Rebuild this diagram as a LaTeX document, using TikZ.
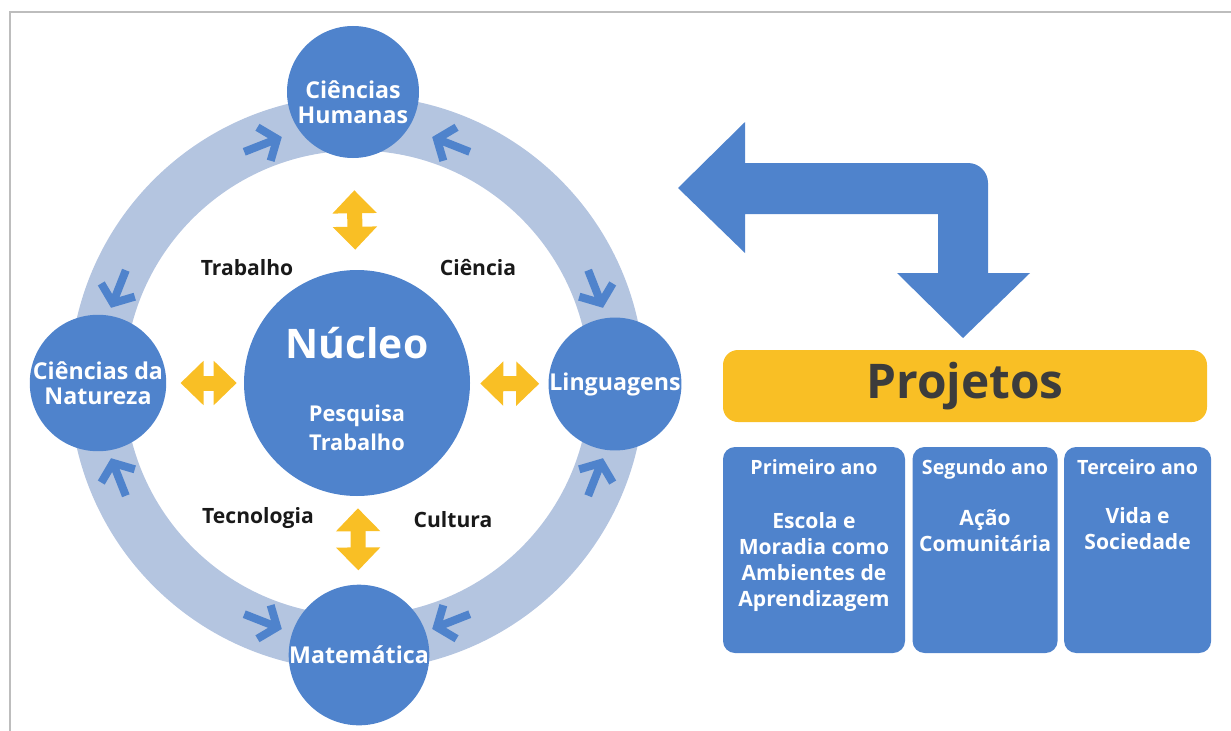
\documentclass[tikz,border=0pt]{standalone}
\usepackage{fontspec}
\setmainfont{Open Sans}
\usetikzlibrary{positioning,arrows.meta}

\definecolor{discblue}{HTML}{4F83CC}
\definecolor{ringblue}{HTML}{B4C5E0}
\definecolor{gold}{HTML}{F9BF25}
\definecolor{ink}{HTML}{3C3C3C}
\definecolor{framegray}{HTML}{BDBDBD}

\begin{document}
\begin{tikzpicture}[%
  % the four areas sitting on the ring
  disc/.style = {circle, fill=discblue, text=white, align=center, inner sep=0,
              minimum size=3.3cm, font=\bfseries\fontsize{16.5}{17.5}\selectfont},
  % small arrows running along the ring
  chev/.style = {draw=discblue, line width=0.2cm,
              -{Straight Barb[length=0.35cm,width=0.9cm]}},
  % yellow two-way arrows around the core
  dbl/.style = {draw=gold, line width=0.375cm,
              {Triangle[length=0.575cm,width=1.075cm]}-{Triangle[length=0.575cm,width=1.075cm]}},
  % black words between the arrows
  word/.style = {text=black!90, font=\bfseries\fontsize{15}{18}\selectfont},
  % one box per school year
  yearbox/.style = {fill=discblue, rounded corners=0.3cm, inner sep=0,
              minimum height=5.15cm},
  yeartitle/.style = {text=white, anchor=base, inner sep=0,
              font=\bfseries\fontsize{14}{17}\selectfont},
  yeartext/.style = {text=white, anchor=base, align=center, inner sep=0,
              font=\bfseries\fontsize{15}{18.5}\selectfont}]

\useasboundingbox (0,0) rectangle (30.775,-18.275);

% thin frame on the top and left side
\draw[framegray, line width=0.05cm] (0.25,-18.275) -- (0.25,-0.3) -- (30.775,-0.3);

% the core and the ring around it
\node[circle, fill=discblue, minimum size=5.65cm, inner sep=0] (core) at (8.925,-9.575) {};
\draw[ringblue, line width=1.375cm] (core.center) circle (6.5cm);

% arrows along the ring, each one heading to the nearest disc
\begin{scope}[shift={(core.center)}]
  \foreach \from/\to in {116/107, 64/73, 154/163, 206/197,
                         244/253, 296/287, 334/343, 26/17}
    \draw[chev] (\from:6.43cm) -- (\to:6.43cm);
\end{scope}

% the four areas
\node[disc] (hum) at (8.825,-2.3) {};
\node[text=white, align=center, inner sep=0, font=\bfseries\fontsize{16.5}{17.5}\selectfont]
  (humtxt) at ([yshift=-0.25cm]hum.center) {Ciências\\Humanas};
\node[disc] (nat) at (2.45,-9.575) {Ciências da\\Natureza};
\node[disc] (ling) at (15.375,-9.6) {Linguagens};
\node[disc] (mat) at (8.975,-16.375) {Matemática};

% text in the core
\node[text=white, anchor=base, font=\bfseries\fontsize{29}{34}\selectfont]
  (nucleo) at ([yshift=0.625cm]core.center) {Núcleo};
\node[text=white, anchor=base, align=center, inner sep=0,
  font=\bfseries\fontsize{15.5}{20}\selectfont]
  (pesq) at ([yshift=-1.675cm]core.center) {Pesquisa\\Trabalho};

% links between the core and the areas
\draw[dbl, shorten <=0.8cm, shorten >=0.5cm] (hum) -- (core);
\draw[dbl, shorten <=0.35cm, shorten >=0.175cm] (nat) -- (core);
\draw[dbl, shorten <=0.25cm, shorten >=0.225cm] (core) -- (ling);
\draw[dbl, shorten <=0.3cm, shorten >=0.35cm] (core) -- (mat);

% the four words
\node[word] (trab) at (6.175,-6.7) {Trabalho};
\node[word] (cien) at (11.95,-6.7) {Ciência};
\node[word] (tecn) at (6.45,-12.95) {Tecnologia};
\node[word] (cult) at (11.325,-13.0) {Cultura};

% big bent arrow between the ring and the projects
\fill[discblue] (16.95,-4.7) -- (18.625,-3.05) -- (18.625,-4.075) -- (24.2,-4.075)
  arc[start angle=90, end angle=0, radius=0.5cm] -- (24.7,-6.825)
  -- (25.75,-6.825) -- (24.075,-8.45) -- (22.425,-6.825) -- (23.45,-6.825)
  -- (23.45,-5.35) -- (18.625,-5.35) -- (18.625,-6.325) -- cycle;

% projects bar
\node[fill=gold, rounded corners=0.375cm, minimum width=12.1cm, minimum height=1.8cm,
  text=ink, font=\bfseries\fontsize{34}{40}\selectfont] (proj) at (24.125,-9.65) {Projetos};

% the three years
\node[yearbox, minimum width=4.55cm] (ano1) at (20.35,-13.75) {};
\node[yearbox, minimum width=3.625cm, right=0.175cm of ano1] (ano2) {};
\node[yearbox, minimum width=3.675cm, right=0.15cm of ano2] (ano3) {};

\node[yeartitle] (t1) at ([yshift=-0.7cm]ano1.north) {Primeiro ano};
\node[yeartitle] (t2) at ([yshift=-0.7cm]ano2.north) {Segundo ano};
\node[yeartitle] (t3) at ([yshift=-0.7cm]ano3.north) {Terceiro ano};

% base of a stacked text is its last line
\node[yeartext] (b1) at ([yshift=-4.0cm]ano1.north)
  {Escola e\\Moradia como\\Ambientes de\\Aprendizagem};
\node[yeartext] (b2) at ([yshift=-2.625cm]ano2.north) {Ação\\Comunitária};
\node[yeartext] (b3) at ([yshift=-2.575cm]ano3.north) {Vida e\\Sociedade};
\end{tikzpicture}
\end{document}
